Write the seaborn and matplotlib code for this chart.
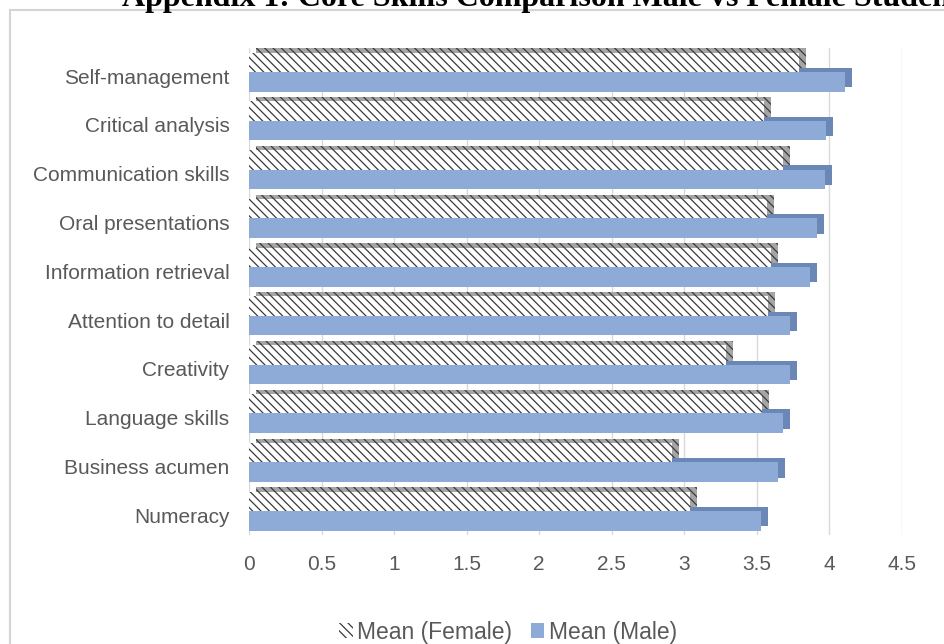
import numpy as np
import pandas as pd
import seaborn as sns
import matplotlib.pyplot as plt
import matplotlib.patheffects as pe
from matplotlib.patches import Patch, Rectangle
from matplotlib.transforms import ScaledTranslation

# data
skills = ['Self-management', 'Critical analysis', 'Communication skills',
          'Oral presentations', 'Information retrieval', 'Attention to detail',
          'Creativity', 'Language skills', 'Business acumen', 'Numeracy']
female = [3.79, 3.55, 3.68, 3.57, 3.60, 3.58, 3.29, 3.54, 2.92, 3.04]
male = [4.11, 3.98, 3.97, 3.92, 3.87, 3.73, 3.73, 3.68, 3.65, 3.53]
groups = ['Mean (Female)', 'Mean (Male)']
xticks = [0, 0.5, 1, 1.5, 2, 2.5, 3, 3.5, 4, 4.5]

title = 'Appendix 1: Core Skills Comparison Male vs Female Students'

blue = '#8eaad6'
blue_side = '#6a87b6'
hatch_col = '#3a3a3a'
txt = '#595959'

df = pd.DataFrame({
    'skill': skills * 2,
    'mean': female + male,
    'group': [groups[0]] * len(skills) + [groups[1]] * len(skills),
})

sns.set_style('white')
plt.rcParams['font.family'] = ['Liberation Sans', 'DejaVu Sans']
plt.rcParams['hatch.linewidth'] = 0.9

fig = plt.figure(figsize=(9.45, 6.44), dpi=100)
ax = fig.add_axes([0.2635, 0.1686, 0.954 - 0.2635, 0.926 - 0.1686])

sns.barplot(data=df, y='skill', x='mean', hue='group', orient='h',
            palette={groups[0]: 'white', groups[1]: blue}, saturation=1,
            width=0.8, linewidth=0, legend=False, ax=ax)

# female bars: hatched, drawn over the male ones
for bar in ax.containers[0]:
    bar.set_hatch('\\\\\\\\')
    bar.set_edgecolor(hatch_col)
    bar.set_linewidth(0)
    bar.set_zorder(3)
    bar.set_path_effects([pe.SimplePatchShadow(offset=(5, 3), shadow_rgbFace='#a5a5a5', alpha=1),
                          pe.Normal()])
for bar in ax.containers[1]:
    bar.set_zorder(2)
    bar.set_path_effects([pe.SimplePatchShadow(offset=(5, 3), shadow_rgbFace=blue_side, alpha=1),
                          pe.Normal()])

ax.set_xlim(0, 4.5)
ax.set_xticks(xticks)
ax.set_xticklabels([f'{t:g}' for t in xticks])
ax.set_xlabel('')
ax.set_ylabel('')
ax.tick_params(axis='x', length=0, pad=14, labelsize=15, labelcolor=txt)
ax.tick_params(axis='y', length=0, pad=14, labelsize=15, labelcolor=txt)
for lab in ax.get_yticklabels():
    lab.set_transform(lab.get_transform() + ScaledTranslation(0, -3 / 72, fig.dpi_scale_trans))
ax.grid(axis='x', color='#d9d9d9', lw=1)
ax.set_axisbelow(True)
sns.despine(ax=ax, left=True, bottom=True)

# legend
handles = [Patch(facecolor='white', edgecolor=hatch_col, hatch='\\\\\\\\', lw=0, label=groups[0]),
           Patch(facecolor=blue, edgecolor='none', label=groups[1])]
fig.legend(handles=handles, loc='center', bbox_to_anchor=(508 / 945, 1 - 632 / 644),
           ncol=2, frameon=False, fontsize=16.5, handlelength=0.6, handleheight=0.6,
           handletextpad=0.2, columnspacing=0.8, labelcolor=txt)

# chart frame and the clipped heading above it (cut off in the reference too)
fig.patches.append(Rectangle((10 / 945, -1), 2, 2 - 10 / 644, transform=fig.transFigure,
                             fill=False, edgecolor='#d4d4d4', lw=1.5))
fig.text(122 / 945, 1 - 6 / 644, title, ha='left', va='baseline', fontsize=23,
         fontweight='bold', family='Liberation Serif', color='black')

fig.savefig('out.png', dpi=100)
